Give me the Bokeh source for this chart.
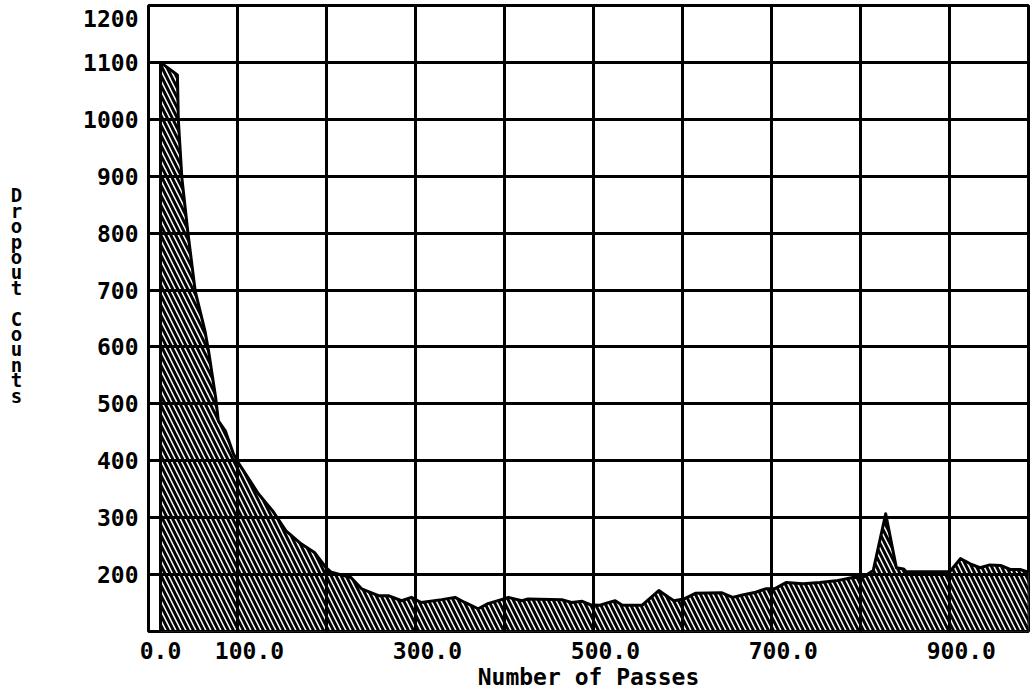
from bokeh.plotting import figure
from bokeh.models import FixedTicker, PrintfTickFormatter, Range1d
from bokeh.embed import file_html
from bokeh.resources import INLINE

# ---- data ----
passes = [0, 19, 20, 24, 31, 39, 50, 54, 62, 65, 73, 82, 88, 110, 126, 141,
          158, 173, 186, 192, 214, 226, 245, 256, 271, 282, 293, 316, 331, 342,
          357, 368, 383, 391, 406, 413, 451, 462, 474, 483, 493, 504, 511, 519,
          541, 560, 571, 577, 588, 601, 631, 643, 654, 669, 680, 690, 703, 722,
          741, 759, 778, 789, 801, 815, 827, 835, 838, 887, 899, 910, 921, 932,
          944, 955, 966, 976]
counts = [1100, 1078, 1000, 897, 798, 698, 628, 593, 511, 470, 452, 412, 395, 342, 312, 277,
          254, 239, 212, 204, 195, 175, 163, 163, 154, 160, 151, 156, 160, 151,
          140, 149, 156, 160, 154, 157, 156, 151, 153, 147, 146, 151, 154, 146,
          146, 172, 160, 154, 157, 167, 168, 160, 164, 169, 175, 175, 186, 184,
          186, 189, 195, 195, 207, 307, 212, 210, 205, 205, 228, 219, 212, 217,
          216, 209, 209, 204]

x_tick_values = [0, 100, 300, 500, 700, 900]
y_tick_values = [200, 300, 400, 500, 600, 700, 800, 900, 1000, 1100, 1200]
grid_steps = [100, 200, 300, 400, 500, 600, 700, 800, 900]

x_title = "Number of Passes"
y_title = "Dropout Counts"

# ---- axes extents / style ----
X_MIN, X_MAX = -13.5, 975.5
Y_MIN, Y_MAX = 100, 1200
GRID_SHIFT = -13.5          # the original grid is drawn offset from the labelled ticks
TOP_LABEL_DROP = 23         # the "1200" label sits a bit below the frame top
FONT = "DejaVu Sans Mono"

p = figure(width=1030, height=695,
           x_range=Range1d(X_MIN, X_MAX), y_range=Range1d(Y_MIN, Y_MAX),
           output_backend="svg", toolbar_location=None,
           min_border_left=148, min_border_right=2,
           min_border_top=5, min_border_bottom=64)
p.background_fill_color = "white"
p.border_fill_color = "white"
p.outline_line_color = "black"
p.outline_line_width = 3
p.outline_line_alpha = 1.0

xs = [passes[0]] + passes + [passes[-1]]
ys = [Y_MIN] + counts + [Y_MIN]
p.patch(xs, ys, fill_color="white", hatch_pattern="\\", hatch_color="black",
        hatch_scale=10, hatch_weight=3, line_color="black", line_width=3,
        line_join="round")

# axes
xa = p.xaxis[0]
ya = p.yaxis[0]
xa.ticker = FixedTicker(ticks=x_tick_values)
xa.formatter = PrintfTickFormatter(format="%.1f")
y_label_pos = [v if v < Y_MAX else Y_MAX - TOP_LABEL_DROP for v in y_tick_values]
ya.ticker = FixedTicker(ticks=y_label_pos)
ya.formatter = PrintfTickFormatter(format="%d")
ya.major_label_overrides = {Y_MAX - TOP_LABEL_DROP: str(Y_MAX)}

for ax in (xa, ya):
    ax.axis_line_color = None
    ax.major_tick_line_color = None
    ax.minor_tick_line_color = None
    ax.major_tick_out = 0
    ax.major_tick_in = 0
    ax.major_label_text_font = FONT
    ax.major_label_text_font_style = "bold"
    ax.major_label_text_font_size = "23px"
    ax.major_label_text_color = "black"
    ax.major_label_standoff = 10
    ax.axis_label_text_font = FONT
    ax.axis_label_text_font_style = "bold"
    ax.axis_label_text_color = "black"

xa.axis_label = x_title
xa.axis_label_text_font_size = "23px"
xa.axis_label_standoff = 2

ya.axis_label = "\n".join(y_title) + "\n \n \n "
ya.axis_label_orientation = "horizontal"
ya.axis_label_text_font_size = "19px"
ya.axis_label_text_line_height = 0.70
ya.axis_label_standoff = 58

# grid (drawn on top of the hatched area)
p.xgrid.ticker = FixedTicker(ticks=[g + GRID_SHIFT for g in grid_steps])
p.ygrid.ticker = FixedTicker(ticks=[v for v in y_tick_values if v < Y_MAX])
for g in (p.xgrid, p.ygrid):
    g.grid_line_color = "black"
    g.grid_line_width = 3
    g.grid_line_alpha = 1.0
    g.level = "overlay"

open("out.html", "w").write(file_html(p, INLINE))
